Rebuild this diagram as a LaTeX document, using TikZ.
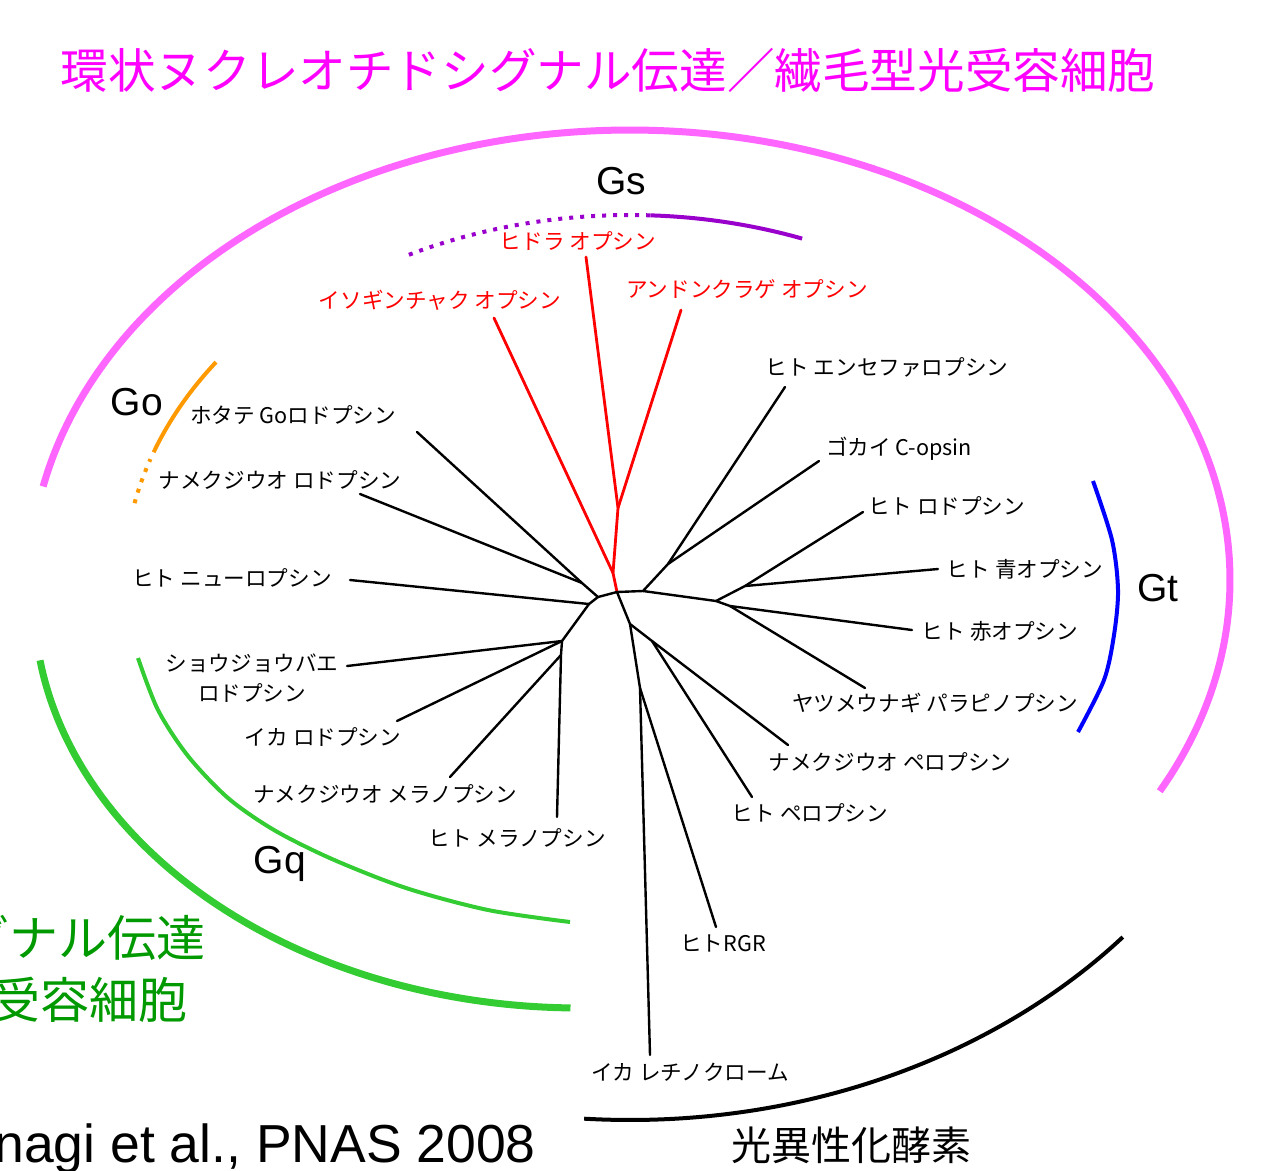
\documentclass[tikz,border=0pt]{standalone}
\usepackage{fontspec}
\setmainfont{Liberation Sans}
\newfontfamily\jp{Noto Sans CJK JP}
\definecolor{magarc}{RGB}{255,102,255}
\definecolor{magtxt}{RGB}{255,0,255}
\definecolor{gsp}{RGB}{153,0,204}
\definecolor{goor}{RGB}{255,153,0}
\definecolor{gqg}{RGB}{51,204,51}
\definecolor{gtxt}{RGB}{0,153,0}
\begin{document}
\begin{tikzpicture}[x=1pt,y=-1pt,
  lab/.style={font=\jp\fontsize{21.6}{30}\selectfont, inner sep=0pt, text=black},
  rlab/.style={lab, text=red},
  grp/.style={font=\fontsize{39}{44}\selectfont, inner sep=0pt},
  br/.style={line width=2.4pt, black, line join=round, line cap=round},
  rbr/.style={line width=2.8pt, red, line join=round, line cap=round},
  arcline/.style={line width=4pt}]
\useasboundingbox (0,0) rectangle (1287,1170);
\fill[white] (0,0) rectangle (1287,1170);

% title
\node[font=\jp\fontsize{47.6}{50}\selectfont, text=magtxt, inner sep=0pt] (title) at (608,70) {環状ヌクレオチドシグナル伝達／繊毛型光受容細胞};

% big arcs
\draw[magarc, line width=7pt] plot[smooth, domain=192:388, samples=90, variable=\t] ({630+600*cos(\t)},{580+450*sin(\t)});
\draw[gsp, arcline, dash pattern=on 4pt off 7pt] plot[smooth, domain=243:272.4, samples=30, variable=\t] ({630+487*cos(\t)},{580+365*sin(\t)});
\draw[gsp, arcline] plot[smooth, domain=272.4:290.7, samples=20, variable=\t] ({630+487*cos(\t)},{580+365*sin(\t)});
\draw[goor, arcline] plot[smooth, domain=199.7:215.1, samples=20, variable=\t] ({630+506*cos(\t)},{580+379*sin(\t)});
\draw[goor, arcline, dash pattern=on 4pt off 7pt] plot[smooth, domain=191.7:198.6, samples=12, variable=\t] ({630+506*cos(\t)},{580+379*sin(\t)});
\draw[blue, arcline] plot[smooth] coordinates {(1093,481) (1112,540) (1118,590) (1114,635) (1104,680) (1078,732)};
\draw[gqg, arcline] plot[smooth] coordinates {(138,658) (158,710) (188,756) (228,798) (274,830) (332,859) (406,888) (488,910) (570,922)};
\draw[gqg, line width=7pt] plot[smooth, domain=91:171.5, samples=60, variable=\t] ({580+546*cos(\t)},{600+408*sin(\t)});
\draw[black, arcline] plot[smooth, domain=41.4:94, samples=60, variable=\t] ({630+657*cos(\t)},{580+540*sin(\t)});

% group labels
\node[grp] (gs) at (621,181) {Gs};
\node[grp] (go) at (137,402) {Go};
\node[grp] (gt) at (1158,588) {Gt};
\node[grp] (gq) at (280,864) {Gq};
\node[font=\jp\fontsize{40}{44}\selectfont, inner sep=0pt] (iso) at (851,1145) {光異性化酵素};
\node[font=\jp\fontsize{49}{52}\selectfont, text=gtxt, inner sep=0pt, anchor=east] (g1) at (206,938) {グナル伝達};
\node[font=\jp\fontsize{49}{52}\selectfont, text=gtxt, inner sep=0pt, anchor=east] (g2) at (188,1000) {受容細胞};
\node[font=\fontsize{53.5}{56}\selectfont, inner sep=0pt, anchor=base east] (cite) at (536,1162) {nagi et al., PNAS 2008};

% internal coordinates
\coordinate (r0) at (617,592);
\coordinate (r1) at (613,573);
\coordinate (r2) at (618,508);
\coordinate (A) at (598,597);
\coordinate (B) at (582,583);
\coordinate (C) at (589,604);
\coordinate (D) at (562,641);
\coordinate (E) at (561,655);
\coordinate (F) at (643,591);
\coordinate (G) at (668,564);
\coordinate (H) at (716,601);
\coordinate (I) at (745,586);
\coordinate (K) at (730,606);
\coordinate (L) at (630,624);
\coordinate (N) at (652,641);
\coordinate (M) at (640,688);

% leaf ends
\coordinate (lhyd) at (586,257);
\coordinate (liso) at (494,318);
\coordinate (land) at (681,310);
\coordinate (lhot) at (417,432);
\coordinate (lnrod) at (360,494);
\coordinate (lneu) at (350,580);
\coordinate (lfly) at (347,666);
\coordinate (lsqr) at (397,721);
\coordinate (lnmel) at (450,777);
\coordinate (lhmel) at (557,817);
\coordinate (lenc) at (785,387);
\coordinate (lgok) at (819,461);
\coordinate (lrho) at (863,512);
\coordinate (lblu) at (938,569);
\coordinate (lred) at (912,630);
\coordinate (llam) at (865,688);
\coordinate (lnper) at (788,745);
\coordinate (lhper) at (752,797);
\coordinate (lrgr) at (716,927);
\coordinate (lret) at (650,1055);

% red branches
\draw[rbr] (r0) -- (r1) -- (liso);
\draw[rbr] (r1) -- (r2) -- (lhyd);
\draw[rbr] (r2) -- (land);

% black branches
\draw[br] (r0) -- (A) -- (B) -- (lhot);
\draw[br] (B) -- (lnrod);
\draw[br] (A) -- (C) -- (lneu);
\draw[br] (C) -- (D) -- (lfly);
\draw[br] (D) -- (lsqr);
\draw[br] (D) -- (E) -- (lhmel);
\draw[br] (E) -- (lnmel);
\draw[br] (r0) -- (F) -- (G) -- (lenc);
\draw[br] (G) -- (lgok);
\draw[br] (F) -- (H) -- (I) -- (lrho);
\draw[br] (I) -- (lblu);
\draw[br] (H) -- (K) -- (lred);
\draw[br] (K) -- (llam);
\draw[br] (r0) -- (L) -- (N) -- (lnper);
\draw[br] (N) -- (lhper);
\draw[br] (L) -- (M) -- (lret);
\draw[br] (M) -- (lrgr);

% labels
\node[rlab] (thyd) at (578,241) {ヒドラ オプシン};
\node[rlab] (tiso) at (440,300) {イソギンチャク オプシン};
\node[rlab] (tand) at (747,289) {アンドンクラゲ オプシン};
\node[lab] (thot) at (293,415) {ホタテ Goロドプシン};
\node[lab] (tnrod) at (280,480) {ナメクジウオ ロドプシン};
\node[lab] (tneu) at (232,578) {ヒト ニューロプシン};
\node[lab, align=center] (tfly) at (252,678) {ショウジョウバエ\\ロドプシン};
\node[lab] (tsqr) at (323,737) {イカ ロドプシン};
\node[lab] (tnmel) at (385,794) {ナメクジウオ メラノプシン};
\node[lab] (thmel) at (517,838) {ヒト メラノプシン};
\node[lab] (tenc) at (887,367) {ヒト エンセファロプシン};
\node[lab] (tgok) at (899,449) {ゴカイ C-opsin};
\node[lab] (trho) at (947,506) {ヒト ロドプシン};
\node[lab] (tblu) at (1025,569) {ヒト 青オプシン};
\node[lab] (tred) at (1000,631) {ヒト 赤オプシン};
\node[lab] (tlam) at (935,703) {ヤツメウナギ パラピノプシン};
\node[lab] (tnper) at (890,762) {ナメクジウオ ペロプシン};
\node[lab] (thper) at (810,813) {ヒト ペロプシン};
\node[lab] (trgr) at (723,943) {ヒトRGR};
\node[lab] (tret) at (690,1072) {イカ レチノクローム};
\end{tikzpicture}
\end{document}
